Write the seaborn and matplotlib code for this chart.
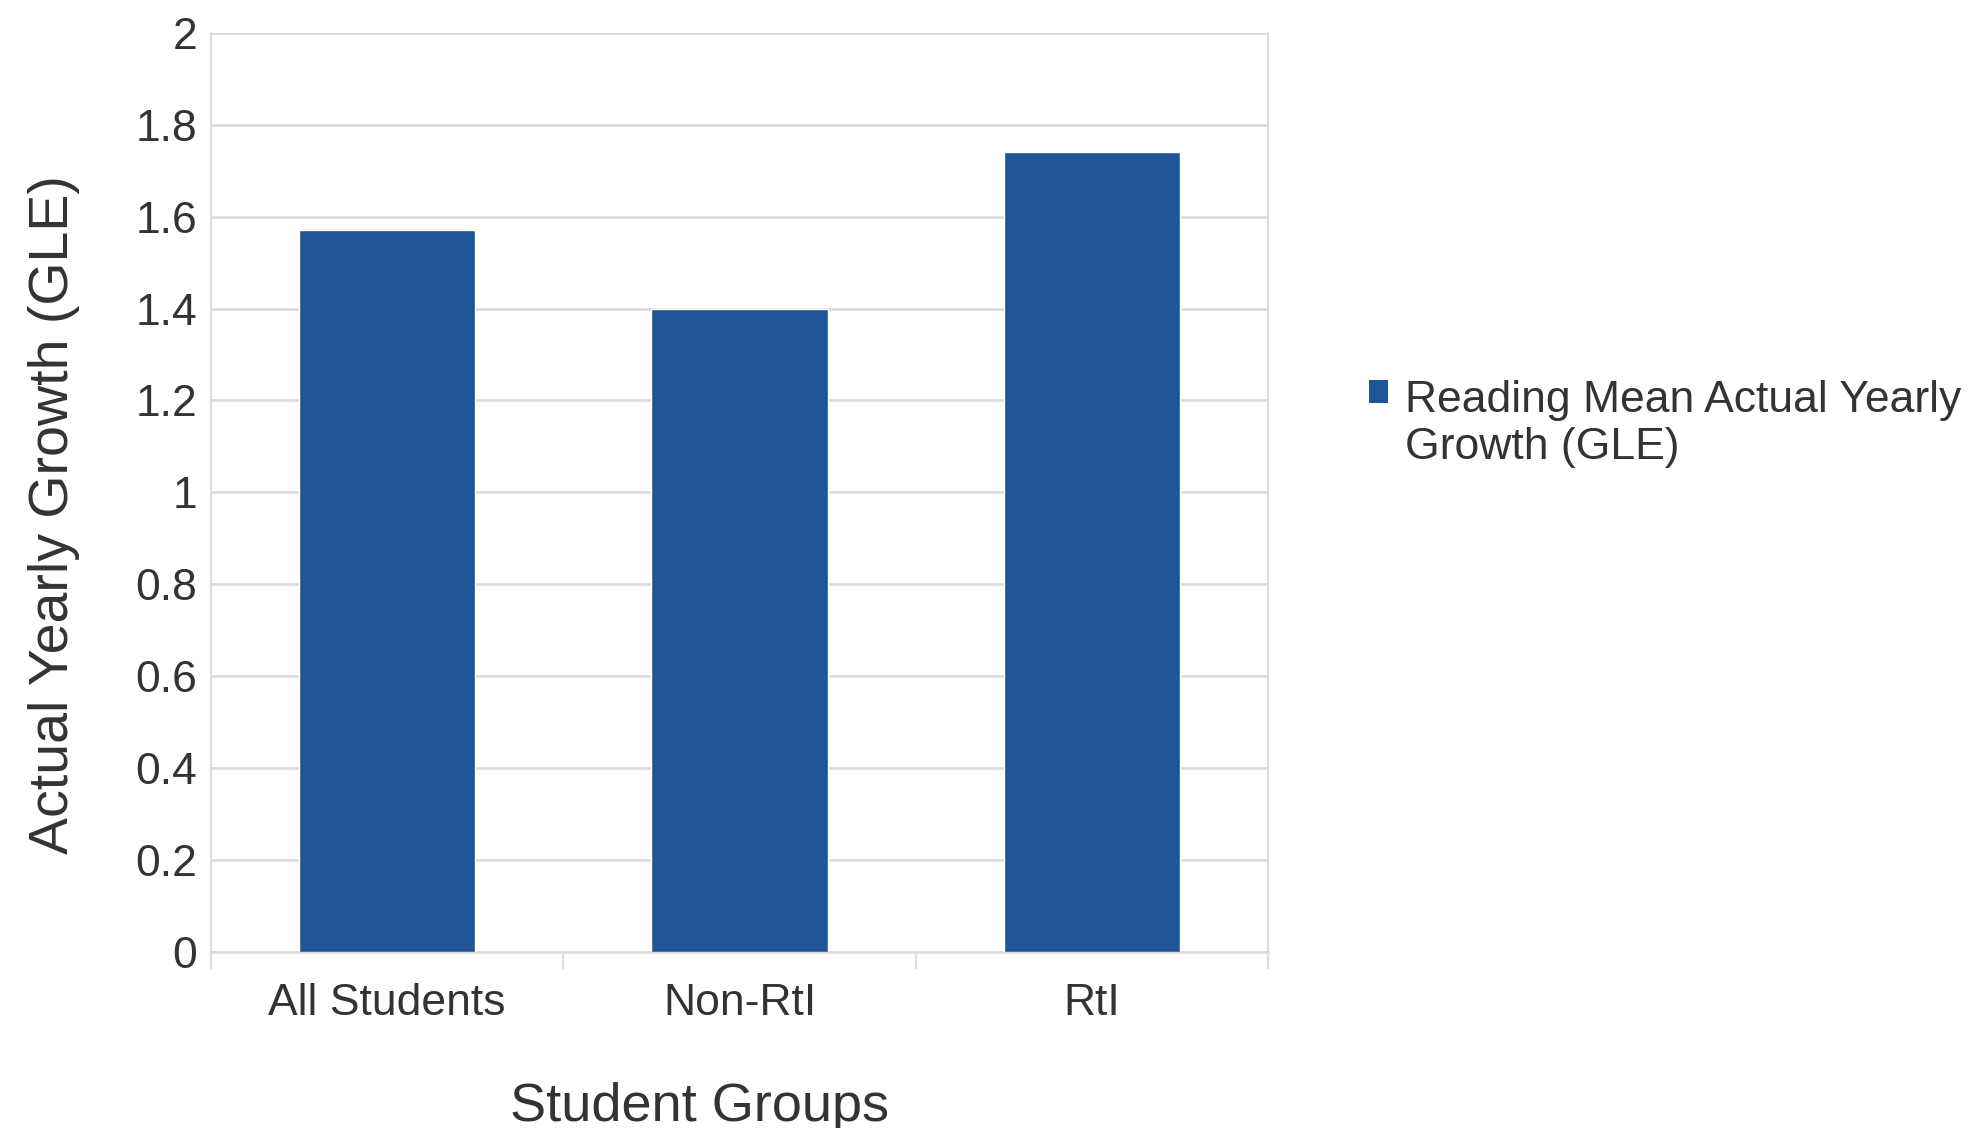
import matplotlib
matplotlib.use("Agg")
import matplotlib.pyplot as plt
import seaborn as sns
import pandas as pd
from matplotlib.patches import Patch
from matplotlib.ticker import FuncFormatter, FixedLocator

categories = ["All Students", "Non-RtI", "RtI"]
values = [1.57, 1.40, 1.74]
series_name = "Reading Mean Actual Yearly\nGrowth (GLE)"
y_ticks = [0, 0.2, 0.4, 0.6, 0.8, 1.0, 1.2, 1.4, 1.6, 1.8, 2.0]

sns.set_theme(style="white")
plt.rcParams["font.family"] = ["Liberation Sans", "DejaVu Sans"]

bar_color = "#1F5596"
text_color = "#333333"
grid_color = "#DCDCDC"

df = pd.DataFrame({"group": categories, "growth": values})

fig = plt.figure(figsize=(19.72, 11.28), dpi=100)
ax = fig.add_axes([0.107, 0.156, 0.536, 0.815])

sns.barplot(data=df, x="group", y="growth", color=bar_color, width=0.5,
            saturation=1, ax=ax, zorder=3)

ax.set_xlim(-0.5, 2.5)
ax.set_ylim(0, 2)
ax.set_yticks(y_ticks)
ax.yaxis.set_major_formatter(FuncFormatter(lambda v, p: f"{v:g}"))
ax.grid(axis="y", color=grid_color, linewidth=2, zorder=0)
ax.set_axisbelow(True)

for s in ["left", "right"]:
    ax.spines[s].set_visible(True)
    ax.spines[s].set_color(grid_color)
    ax.spines[s].set_linewidth(1.5)
ax.spines["top"].set_visible(False)
ax.spines["bottom"].set_color(grid_color)
ax.spines["bottom"].set_linewidth(2)

ax.tick_params(axis="y", length=0, pad=10, labelsize=32, labelcolor=text_color)
ax.tick_params(axis="x", which="major", length=0, pad=22, labelsize=32,
               labelcolor=text_color)
ax.xaxis.set_minor_locator(FixedLocator([-0.5, 0.5, 1.5, 2.5]))
ax.tick_params(axis="x", which="minor", bottom=True, length=12, width=1.5,
               color=grid_color)

ax.set_xlabel("Student Groups", fontsize=39, color=text_color, labelpad=42)
ax.xaxis.label.set_x(0.462)
ax.set_ylabel("Actual Yearly Growth (GLE)", fontsize=40, color=text_color, labelpad=40)
ax.yaxis.label.set_y(0.476)

handle = Patch(facecolor=bar_color, edgecolor="none")
leg = fig.legend([handle], [series_name], loc="upper left",
                 bbox_to_anchor=(1369 / 1972, 1 - 380 / 1128),
                 frameon=False, fontsize=32, handlelength=0.42, handleheight=0.42,
                 handletextpad=0.38, borderpad=0, borderaxespad=0,
                 labelcolor=text_color)
for col in leg._legend_handle_box.get_children():
    for item in col.get_children():
        item.align = "top"
for t in leg.get_texts():
    t.set_linespacing(1.2)

fig.savefig("out.png", dpi=100, facecolor="white")
